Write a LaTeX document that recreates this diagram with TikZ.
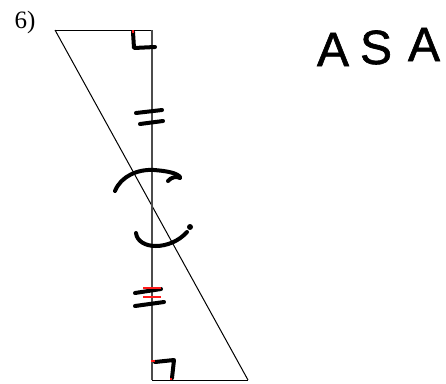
\documentclass[tikz,border=0pt]{standalone}
\usepackage{fontspec}
\setmainfont{Liberation Serif}
\newfontfamily\handfont[FakeBold=1.3]{Liberation Sans}
\begin{document}
\begin{tikzpicture}[x=1pt,y=-1pt,
  edge/.style={line width=1pt,black},
  sidegray/.style={line width=1.6pt,black!70},
  ink/.style={line width=4pt,black,line cap=round,line join=round},
  redink/.style={line width=1.3pt,red!90},
  hand/.style={font=\handfont\fontsize{48}{48}\selectfont,inner sep=0pt,anchor=base}]
\useasboundingbox[fill=white] (0,0) rectangle (446,383);
% vertices
\coordinate (A) at (55,30);
\coordinate (B) at (152,30);
\coordinate (C) at (152,380);
\coordinate (D) at (248,380);
\draw[edge] (A) -- (B);
\draw[edge] (C) -- (D);
\draw[edge] (A) -- (D);
\draw[sidegray] (B) -- (C);
% label
\node[font=\fontsize{25}{25}\selectfont,inner sep=0pt] (lbl) at (25,22) {6)};
% right angle marks
\draw[ink] (133,32) -- (134,48) -- (155,47);
\draw[ink] (155,362) -- (174,360) -- (172,378);
\draw[redink] (133,30) -- (133,33);
\draw[redink] (151,361) -- (155,361);
\draw[redink] (171,378) -- (171,380);
% top tick marks
\draw[ink] (136,113) -- (162,110);
\draw[ink] (140,124) -- (163,121);
% angle arcs
\draw[ink] (115,191) .. controls (121,176) and (138,169) .. (154,170) .. controls (167,171) and (177,173) .. (180,177);
\draw[ink] (168,181) .. controls (171,177) and (177,176) .. (180,178);
\draw[ink] (136,233) .. controls (138,250) and (170,251) .. (187,232);
\fill (190,227) circle (3pt);
% bottom tick marks
\draw[ink] (135,293) -- (161,289);
\draw[ink] (135,306) -- (164,302);
\draw[redink] (143,288) -- (161,288);
\draw[redink] (143,297) -- (161,297);
% ASA
\node[hand] (a1) at (333,66) {A};
\node[hand] (s1) at (376,64) {S};
\node[hand] (a2) at (424,61) {A};
\end{tikzpicture}
\end{document}
